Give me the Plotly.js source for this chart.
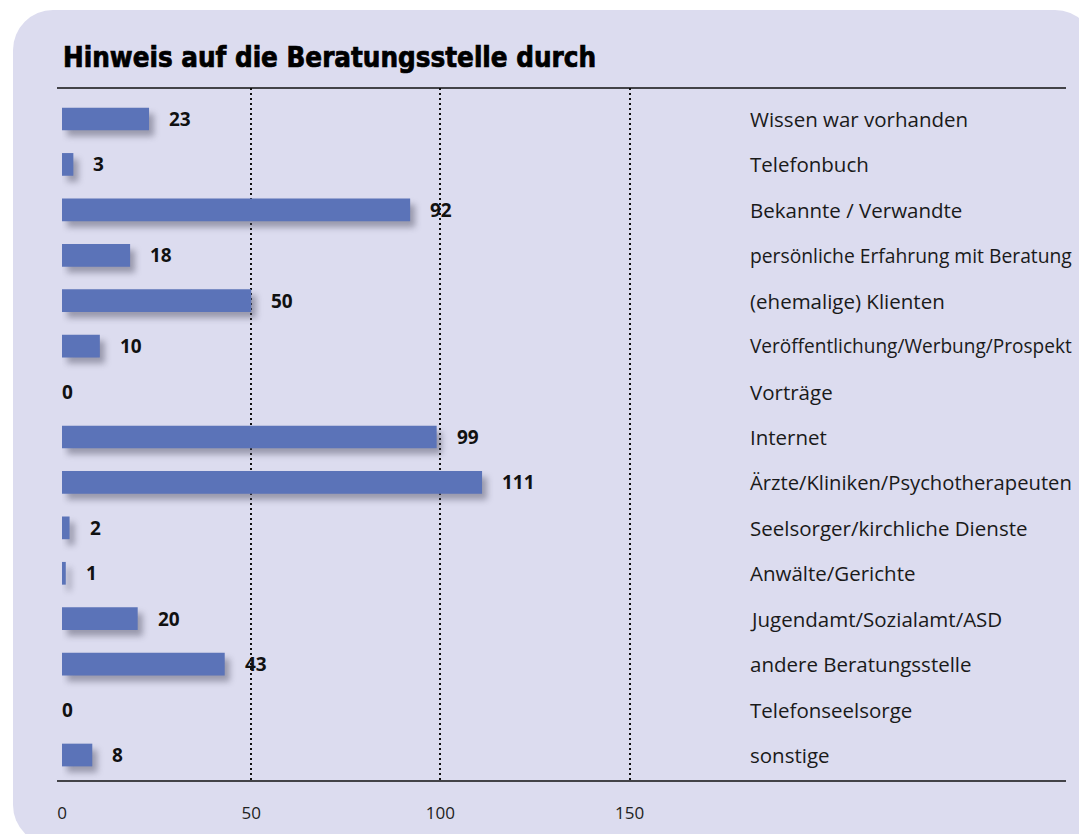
<!DOCTYPE html>
<html>
<head>
<meta charset="utf-8">
<script src="https://cdn.plot.ly/plotly-3.0.1.min.js"></script>
<style>
  html, body { margin: 0; padding: 0; background: #ffffff; overflow: hidden; width: 1079px; height: 834px; }
  #panel { position: absolute; left: 13px; top: 10px; width: 1082px; height: 835px; background: #dcdcef; border-radius: 40px; }
  #chart { position: absolute; left: 0; top: 0; width: 1079px; height: 834px; }
  #chart .trace.bars .point path { filter: drop-shadow(5px 6px 3px rgba(70,70,90,0.45)); }
  #chart .gtitle { stroke: #000; stroke-width: 0.7px; }
</style>
</head>
<body>
<div id="panel"></div>
<div id="chart"></div>
<script>
const categories = [
  "Wissen war vorhanden",
  "Telefonbuch",
  "Bekannte / Verwandte",
  "persönliche Erfahrung mit Beratung",
  "(ehemalige) Klienten",
  "Veröffentlichung/Werbung/Prospekt",
  "Vorträge",
  "Internet",
  "Ärzte/Kliniken/Psychotherapeuten",
  "Seelsorger/kirchliche Dienste",
  "Anwälte/Gerichte",
  "Jugendamt/Sozialamt/ASD",
  "andere Beratungsstelle",
  "Telefonseelsorge",
  "sonstige"
];
const values = [23, 3, 92, 18, 50, 10, 0, 99, 111, 2, 1, 20, 43, 0, 8];
const tickValues = [0, 50, 100, 150];
const tickLabels = ["0", "50", "100", "150"];
const title = "Hinweis auf die Beratungsstelle durch";

const panelColor = "#dcdcef";
const barColor = "#5b73b8";
const labelFamily = "Open Sans";
const labelSize = 20.5;
const labelMaxWidth = 322;

// shrink only the labels that would not fit the label column
const ctx = document.createElement("canvas").getContext("2d");
function fitSize(text) {
  ctx.font = labelSize + "px '" + labelFamily + "'";
  const w = ctx.measureText(text).width;
  return w > labelMaxWidth ? labelSize * labelMaxWidth / w : labelSize;
}

const valueAnnotations = categories.map((c, i) => ({
  x: values[i], y: c, xref: "x", yref: "y",
  text: String(values[i]), showarrow: false,
  xanchor: "left", yanchor: "middle", borderpad: 0,
  xshift: values[i] > 0 ? 19 : -1,
  font: { family: "Open Sans", size: 19, color: "#111", weight: 700 }
}));
const catAnnotations = categories.map((c) => ({
  x: 0.6843, y: c, xref: "paper", yref: "y",
  text: c, showarrow: false, xanchor: "left", yanchor: "middle", borderpad: 0,
  font: { family: labelFamily, size: fitSize(c), color: "#1a1a1a" }
}));

const data = [{
  type: "bar", orientation: "h",
  x: values, y: categories,
  width: 0.5,
  marker: { color: barColor, line: { width: 0 } },
  hoverinfo: "skip"
}];

const layout = {
  width: 1079, height: 834,
  margin: { l: 62, r: 13, t: 88, b: 53 },
  paper_bgcolor: "rgba(0,0,0,0)",
  plot_bgcolor: "rgba(0,0,0,0)",
  showlegend: false,
  title: {
    text: title, xref: "container", yref: "container",
    x: 63 / 1079, xanchor: "left", y: 1 - 57 / 834, yanchor: "middle",
    font: { family: "'DejaVu Sans Condensed', 'Open Sans', sans-serif", size: 27.5, color: "#000", weight: 700 }
  },
  xaxis: {
    range: [0, 265.3], fixedrange: true,
    tickvals: tickValues, ticktext: tickLabels,
    ticks: "", ticklabelstandoff: 20,
    tickfont: { family: "Open Sans", size: 17, color: "#222" },
    showgrid: true, gridcolor: "#111", gridwidth: 2, griddash: "2px,3px",
    zeroline: true, zerolinecolor: panelColor, zerolinewidth: 3,
    showline: false
  },
  yaxis: {
    type: "category", range: [14.572, -0.682], fixedrange: true,
    showticklabels: false, showgrid: false, zeroline: false, ticks: ""
  },
  shapes: [
    { type: "line", xref: "paper", yref: "paper", x0: -0.005, x1: 1, y0: 1, y1: 1, line: { color: "#111", width: 1.5 } },
    { type: "line", xref: "paper", yref: "paper", x0: -0.005, x1: 1, y0: 0, y1: 0, line: { color: "#111", width: 1.5 } }
  ],
  annotations: valueAnnotations.concat(catAnnotations)
};

Plotly.newPlot("chart", data, layout, { displayModeBar: false, staticPlot: true });
</script>
</body>
</html>
